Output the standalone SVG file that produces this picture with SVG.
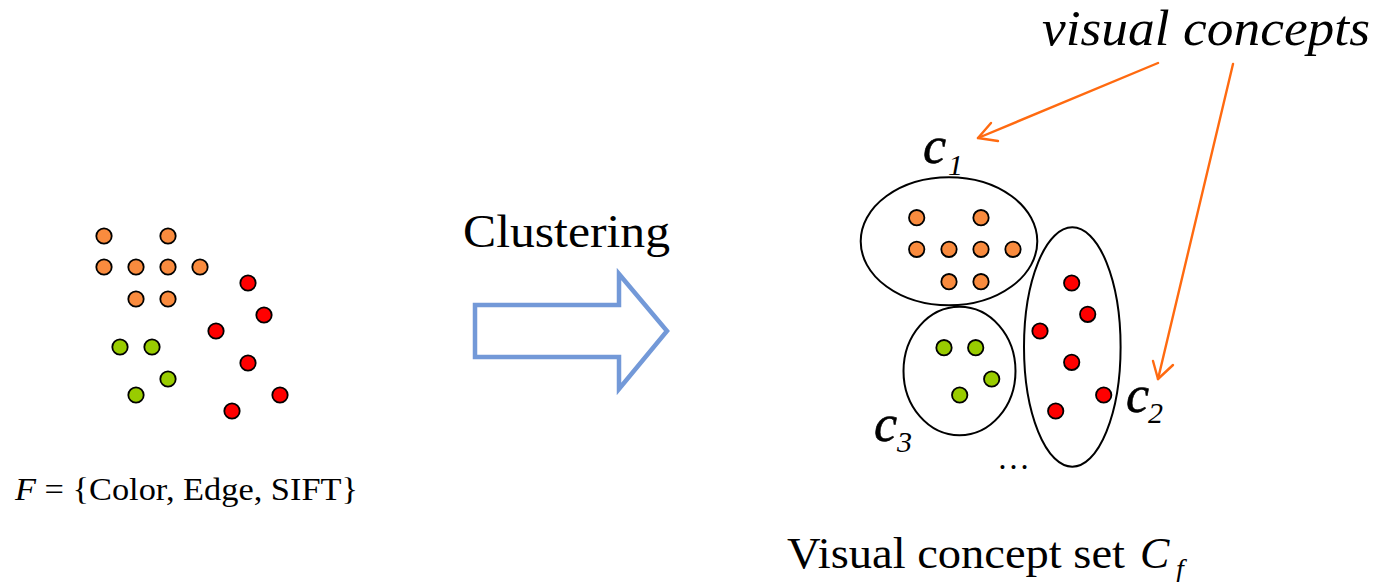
<svg xmlns="http://www.w3.org/2000/svg" width="1379" height="582" viewBox="0 0 1379 582">
  <style>
    .dot { stroke: #000; stroke-width: 1.8; }
    .o { fill: #F98B3E; }
    .r { fill: #FF0000; }
    .g { fill: #99CC00; }
    .hull { fill: none; stroke: #000; stroke-width: 2; }
    .lbl { font-family: "Liberation Serif", "Times New Roman", serif; fill: #000; }
    .it { font-style: italic; }
    .var { font-size: 52px; stroke: #000; stroke-width: 0.6; }
    .sub { font-size: 30px; }
    .ptr { fill: none; stroke: #FF6A10; stroke-width: 2.4; stroke-linecap: round; stroke-linejoin: round; }
  </style>

  <!-- raw feature points -->
  <g id="features">
    <circle class="dot o" cx="104" cy="236" r="7.7"/>
    <circle class="dot o" cx="168" cy="236" r="7.7"/>
    <circle class="dot o" cx="104" cy="267" r="7.7"/>
    <circle class="dot o" cx="136" cy="267" r="7.7"/>
    <circle class="dot o" cx="168" cy="267" r="7.7"/>
    <circle class="dot o" cx="200" cy="267" r="7.7"/>
    <circle class="dot o" cx="136" cy="299" r="7.7"/>
    <circle class="dot o" cx="168" cy="299" r="7.7"/>
    <circle class="dot r" cx="248" cy="283" r="7.7"/>
    <circle class="dot r" cx="264" cy="315" r="7.7"/>
    <circle class="dot r" cx="216" cy="331" r="7.7"/>
    <circle class="dot r" cx="248" cy="363" r="7.7"/>
    <circle class="dot r" cx="280" cy="395" r="7.7"/>
    <circle class="dot r" cx="232" cy="411" r="7.7"/>
    <circle class="dot g" cx="120" cy="347" r="7.7"/>
    <circle class="dot g" cx="152" cy="347" r="7.7"/>
    <circle class="dot g" cx="168" cy="379" r="7.7"/>
    <circle class="dot g" cx="136" cy="395" r="7.7"/>
  </g>
  <g id="feature-label">
    <text class="lbl" x="15" y="500" font-size="31" textLength="343" lengthAdjust="spacingAndGlyphs"><tspan class="it">F</tspan> = {Color, Edge, SIFT}</text>
  </g>

  <!-- clustering step -->
  <g id="clustering">
    <text class="lbl" x="463" y="247" font-size="46" textLength="207" lengthAdjust="spacingAndGlyphs">Clustering</text>
    <polygon points="475,305 619,305 619,274 667,331 619,389 619,357 475,357" fill="#fff" stroke="#7399D8" stroke-width="4.5" stroke-linejoin="miter"/>
  </g>

  <!-- cluster c1 -->
  <g id="c1">
    <ellipse class="hull" cx="949" cy="241.3" rx="88.3" ry="64"/>
    <circle class="dot o" cx="916.7" cy="217.7" r="7.7"/>
    <circle class="dot o" cx="981" cy="217.7" r="7.7"/>
    <circle class="dot o" cx="916.7" cy="249.3" r="7.7"/>
    <circle class="dot o" cx="949" cy="249.3" r="7.7"/>
    <circle class="dot o" cx="981" cy="249.3" r="7.7"/>
    <circle class="dot o" cx="1013" cy="249.3" r="7.7"/>
    <circle class="dot o" cx="949" cy="281.7" r="7.7"/>
    <circle class="dot o" cx="981" cy="281.7" r="7.7"/>
    <text class="lbl it var" x="923" y="163">c</text>
    <text class="lbl it sub" x="948" y="175">1</text>
  </g>

  <!-- cluster c2 -->
  <g id="c2">
    <ellipse class="hull" cx="1072.3" cy="347" rx="48.3" ry="119.7"/>
    <circle class="dot r" cx="1071.7" cy="283" r="7.7"/>
    <circle class="dot r" cx="1087.7" cy="314.3" r="7.7"/>
    <circle class="dot r" cx="1040" cy="331" r="7.7"/>
    <circle class="dot r" cx="1071.7" cy="362.3" r="7.7"/>
    <circle class="dot r" cx="1103.7" cy="395" r="7.7"/>
    <circle class="dot r" cx="1055.7" cy="411" r="7.7"/>
    <text class="lbl it var" x="1126" y="412">c</text>
    <text class="lbl it sub" x="1148" y="423">2</text>
  </g>

  <!-- cluster c3 -->
  <g id="c3">
    <ellipse class="hull" cx="959.5" cy="371" rx="56" ry="64.3"/>
    <circle class="dot g" cx="944" cy="347.7" r="7.7"/>
    <circle class="dot g" cx="975.7" cy="347.7" r="7.7"/>
    <circle class="dot g" cx="991.7" cy="379" r="7.7"/>
    <circle class="dot g" cx="959.7" cy="395" r="7.7"/>
    <text class="lbl it var" x="874" y="441">c</text>
    <text class="lbl it sub" x="897" y="452">3</text>
  </g>

  <g id="more">
    <text class="lbl" x="997" y="469" font-size="33">…</text>
  </g>

  <g id="concepts-label">
    <text class="lbl it" x="1042" y="45" font-size="50" textLength="328" lengthAdjust="spacingAndGlyphs">visual concepts</text>
  </g>

  <g id="set-label">
    <text class="lbl" x="787" y="568" font-size="44" textLength="338" lengthAdjust="spacingAndGlyphs">Visual concept set</text>
    <text class="lbl it" x="1140" y="568" font-size="44">C</text>
    <text class="lbl it" x="1176" y="578" font-size="28">f</text>
  </g>

  <!-- pointers from the caption to the clusters -->
  <g id="connectors">
    <path class="ptr" d="M1158,63 L978,138"/>
    <path class="ptr" d="M991,123 L978,138 L998,141"/>
    <path class="ptr" d="M1233,64 L1158,379"/>
    <path class="ptr" d="M1153,361 L1158,379 L1173,365"/>
  </g>
</svg>
